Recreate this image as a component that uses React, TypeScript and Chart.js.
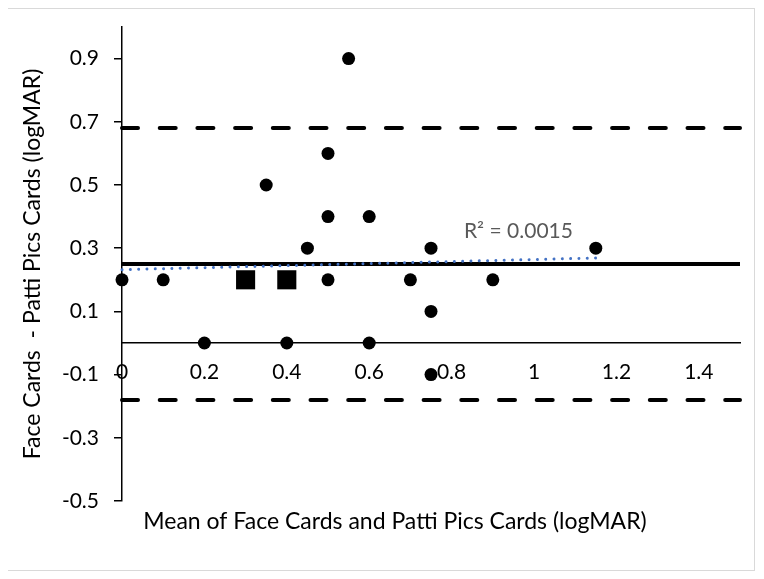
import React, { useEffect, useRef } from "react";
import { Chart, registerables } from "chart.js";

Chart.register(...registerables);

// ---- data ----
const circleX = [0, 0.1, 0.2, 0.35, 0.4, 0.45, 0.5, 0.5, 0.5, 0.55, 0.6, 0.6, 0.7, 0.75, 0.75, 0.75, 0.9, 1.15];
const circleY = [0.2, 0.2, 0, 0.5, 0, 0.3, 0.6, 0.4, 0.2, 0.9, 0.4, 0, 0.2, 0.3, 0.1, -0.1, 0.2, 0.3];
const squareX = [0.3, 0.4];
const squareY = [0.2, 0.2];
const meanDiff = 0.25;
const upperLoA = 0.68;
const lowerLoA = -0.18;
const trendX = [0, 1.15];
const trendY = [0.232, 0.269];
const xRange = [0, 1.5];
const yRange = [-0.5, 1.0];
const xTickLabels = ["0", "0.2", "0.4", "0.6", "0.8", "1", "1.2", "1.4"];
const yTickLabels = ["-0.5", "-0.3", "-0.1", "0.1", "0.3", "0.5", "0.7", "0.9"];
const rSquaredText = "R\u00B2 = 0.0015";
const rSquaredAt = [0.83, 0.355];
const xTitle = "Mean of Face Cards and Patti Pics Cards (logMAR)";
const yTitle = "Face Cards  - Patti Pics Cards (logMAR)";

const FONT = "Lato, 'Open Sans', sans-serif";
const TICK_SIZE = 21;
const TITLE_SIZE = 23;

const zip = (xs: number[], ys: number[]) => xs.map((x, i) => ({ x, y: ys[i] }));
const hLine = (v: number) => [
  { x: xRange[0], y: v },
  { x: xRange[1], y: v },
];
const labelFor = (arr: string[], v: number) =>
  arr.find((l) => Math.abs(parseFloat(l) - v) < 1e-9) ?? "";

const textPlugin = {
  id: "extraText",
  afterDraw(chart: any) {
    const { ctx, chartArea, scales } = chart;
    ctx.save();
    // R² label
    ctx.font = `${TICK_SIZE}px ${FONT}`;
    ctx.fillStyle = "#595959";
    ctx.textAlign = "left";
    ctx.textBaseline = "middle";
    ctx.fillText(
      rSquaredText,
      scales.x.getPixelForValue(rSquaredAt[0]),
      scales.y.getPixelForValue(rSquaredAt[1])
    );
    // x axis title (below plot area)
    ctx.font = `${TITLE_SIZE}px ${FONT}`;
    ctx.fillStyle = "#000";
    ctx.textAlign = "center";
    ctx.fillText(xTitle, chartArea.left + 273, chartArea.bottom + 21);
    ctx.restore();
  },
};

export default function App() {
  const ref = useRef<HTMLCanvasElement | null>(null);

  useEffect(() => {
    if (!ref.current) return;
    Chart.defaults.font.family = FONT;
    const chart = new Chart(ref.current, {
      type: "scatter",
      data: {
        datasets: [
          {
            label: "circles",
            data: zip(circleX, circleY),
            pointStyle: "circle",
            pointRadius: 6.5,
            pointBackgroundColor: "#000",
            pointBorderWidth: 0,
            showLine: false,
            clip: false,
          } as any,
          {
            label: "squares",
            data: zip(squareX, squareY),
            pointStyle: "rect",
            pointRadius: 13.5,
            pointBackgroundColor: "#000",
            pointBorderWidth: 0,
            showLine: false,
            clip: false,
          },
          {
            label: "trend",
            data: zip(trendX, trendY),
            showLine: true,
            borderColor: "#4472C4",
            borderWidth: 3,
            borderDash: [0.01, 8.3],
            borderCapStyle: "round",
            pointRadius: 0,
            clip: false,
          },
          {
            label: "mean",
            data: hLine(meanDiff),
            showLine: true,
            borderColor: "#000",
            borderWidth: 4,
            pointRadius: 0,
            clip: false,
          },
          {
            label: "upper",
            data: hLine(upperLoA),
            showLine: true,
            borderColor: "#000",
            borderWidth: 4,
            borderDash: [16, 21.7],
            borderCapStyle: "round",
            pointRadius: 0,
            clip: false,
          },
          {
            label: "lower",
            data: hLine(lowerLoA),
            showLine: true,
            borderColor: "#000",
            borderWidth: 4,
            borderDash: [16, 21.7],
            borderCapStyle: "round",
            pointRadius: 0,
            clip: false,
          },
        ],
      },
      options: {
        animation: false,
        responsive: false,
        devicePixelRatio: 1,
        layout: { padding: { left: 0, top: 18, right: 14, bottom: 69 } },
        plugins: {
          legend: { display: false },
          tooltip: { enabled: false },
        },
        scales: {
          x: {
            type: "linear",
            position: { y: 0 } as any,
            min: xRange[0],
            max: xRange[1],
            afterBuildTicks: (s: any) => {
              s.ticks = xTickLabels.map((l) => ({ value: parseFloat(l) }));
            },
            ticks: {
              color: "#000",
              font: { size: TICK_SIZE, family: FONT },
              padding: 17,
              maxRotation: 0,
              autoSkip: false,
              callback: (v: any) => labelFor(xTickLabels, Number(v)),
            },
            grid: { display: false, drawTicks: false },
            border: { display: true, color: "#000", width: 1.5 },
          },
          y: {
            type: "linear",
            position: "left",
            min: yRange[0],
            max: yRange[1],
            afterBuildTicks: (s: any) => {
              s.ticks = yTickLabels.map((l) => ({ value: parseFloat(l) }));
            },
            afterFit: (s: any) => {
              s.width = 114;
              s.paddingTop = 0;
              s.paddingBottom = 0;
            },
            ticks: {
              color: "#000",
              font: { size: TICK_SIZE, family: FONT },
              padding: 15,
              autoSkip: false,
              callback: (v: any) => labelFor(yTickLabels, Number(v)),
            },
            grid: {
              display: true,
              drawOnChartArea: false,
              drawTicks: true,
              tickLength: 8,
              color: "#000",
              lineWidth: 1.5,
            },
            border: { display: true, color: "#000", width: 1.5 },
            title: {
              display: true,
              text: yTitle,
              color: "#000",
              font: { size: TITLE_SIZE, family: FONT },
              padding: { top: 11, bottom: 0 },
            },
          },
        },
      },
      plugins: [textPlugin],
    });
    return () => chart.destroy();
  }, []);

  return (
    <div
      style={{
        position: "relative",
        width: 748,
        height: 563,
        border: "1px solid #d9d9d9",
        boxSizing: "border-box",
        marginLeft: -1,
        background: "#fff",
      }}
    >
      <canvas ref={ref} width={746} height={561} style={{ display: "block", width: 746, height: 561 }} />
    </div>
  );
}
